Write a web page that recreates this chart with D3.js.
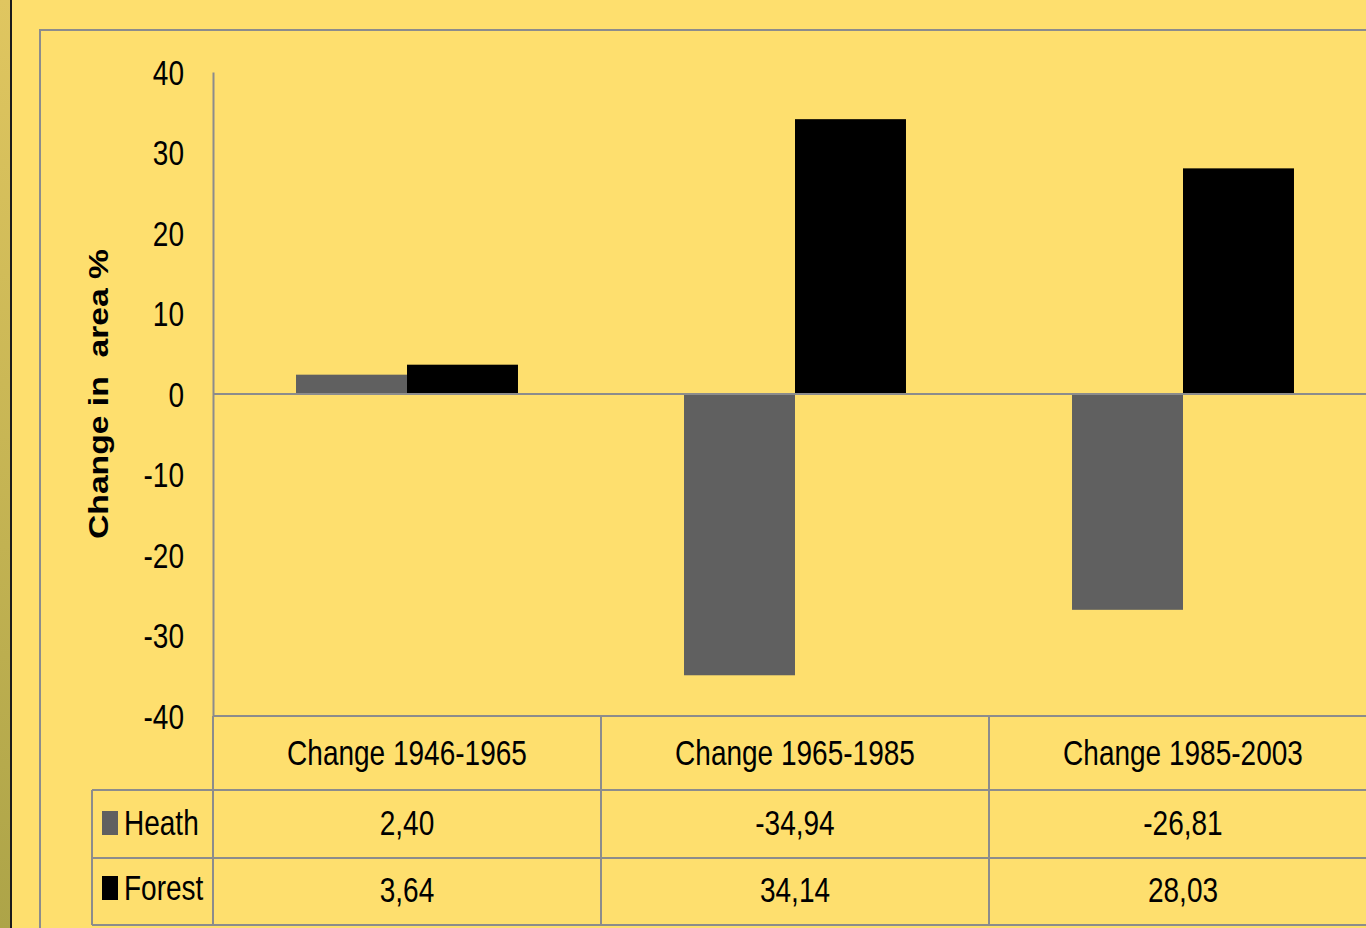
<!DOCTYPE html>
<html><head><meta charset="utf-8">
<script src="https://cdn.jsdelivr.net/npm/d3@7"></script>
<style>html,body{margin:0;padding:0;background:#FEDF6E;overflow:hidden}</style>
</head><body>
<script>
const categories = ["Change 1946-1965", "Change 1965-1985", "Change 1985-2003"];
const seriesNames = ["Heath", "Forest"];
const heath = [2.40, -34.94, -26.81];
const forest = [3.64, 34.14, 28.03];
const heathLabels = ["2,40", "-34,94", "-26,81"];
const forestLabels = ["3,64", "34,14", "28,03"];
const yTicks = [40, 30, 20, 10, 0, -10, -20, -30, -40];
const colors = {Heath: "#606060", Forest: "#000000"};
const yTitle = "Change in\u00a0\u00a0area %";

const W = 1366, H = 928;
const bg = "#FEDF6E", lineC = "#8C8C8C";
const font = "'Liberation Sans Narrow', 'Liberation Sans', Arial, sans-serif";
const NARROW = 0.8;

function narrow(sel, f) {
  sel.each(function() {
    const len = this.getComputedTextLength();
    d3.select(this).attr("textLength", len * f).attr("lengthAdjust", "spacingAndGlyphs");
  });
}

const svg = d3.select("body").append("svg").attr("width", W).attr("height", H);
const defs = svg.append("defs");
const grad = defs.append("linearGradient").attr("id", "strip").attr("x1", 0).attr("y1", 0).attr("x2", 0).attr("y2", 1);
grad.append("stop").attr("offset", "0%").attr("stop-color", "#E0C660");
grad.append("stop").attr("offset", "100%").attr("stop-color", "#ADA448");

svg.append("rect").attr("width", W).attr("height", H).attr("fill", bg);
svg.append("rect").attr("x", 0).attr("y", 0).attr("width", 10).attr("height", H).attr("fill", "url(#strip)");
svg.append("rect").attr("x", 10).attr("y", 0).attr("width", 2).attr("height", H).attr("fill", "#1a1a1a");

// chart border
svg.append("path").attr("d", `M40,${H} V30 H${W}`).attr("fill", "none").attr("stroke", lineC).attr("stroke-width", 2);

const plotLeft = 213, bandW = 388;
const x = d3.scaleBand().domain(categories).range([plotLeft, plotLeft + bandW * categories.length]).padding(0);
const x1 = d3.scaleBand().domain(seriesNames).range([0, x.bandwidth()]).paddingOuter(0.748).paddingInner(0);
const y = d3.scaleLinear().domain([-40, 40]).range([716, 72]);

// bars
const data = categories.map((c, i) => ({cat: c, vals: [{s: "Heath", v: heath[i]}, {s: "Forest", v: forest[i]}]}));
const g = svg.append("g");
g.selectAll("g.grp").data(data).join("g").attr("class", "grp")
  .attr("transform", d => `translate(${x(d.cat)},0)`)
  .selectAll("rect").data(d => d.vals).join("rect")
  .attr("x", d => x1(d.s)).attr("width", x1.bandwidth())
  .attr("y", d => y(Math.max(0, d.v))).attr("height", d => Math.abs(y(d.v) - y(0)))
  .attr("fill", d => colors[d.s]);

// zero line
svg.append("line").attr("x1", plotLeft).attr("x2", W).attr("y1", y(0)).attr("y2", y(0)).attr("stroke", lineC).attr("stroke-width", 2);

// y axis
const yAxis = d3.axisLeft(y).tickValues(yTicks).tickSize(0).tickPadding(29).tickFormat(d => String(d));
const ya = svg.append("g").attr("transform", `translate(${plotLeft},0)`).call(yAxis);
ya.select(".domain").attr("stroke", lineC).attr("stroke-width", 2);
ya.selectAll("text").attr("font-family", font).attr("font-size", 35).attr("fill", "#000").attr("dy", "0.35em").call(narrow, NARROW);

// y title
svg.append("text").attr("transform", "translate(108,394) rotate(-90)")
  .attr("text-anchor", "middle").attr("font-family", "'Liberation Sans', Arial, sans-serif")
  .attr("font-weight", "bold").attr("font-size", 28).attr("fill", "#000")
  .attr("textLength", 290).attr("lengthAdjust", "spacingAndGlyphs")
  .text(yTitle);

// data table
const rowTop = [716, 790, 858, 925];
const tableLeft = 92;
const tl = svg.append("g").attr("stroke", lineC).attr("stroke-width", 2);
tl.append("line").attr("x1", plotLeft).attr("x2", W).attr("y1", rowTop[0]).attr("y2", rowTop[0]);
[1, 2, 3].forEach(i => tl.append("line").attr("x1", tableLeft).attr("x2", W).attr("y1", rowTop[i]).attr("y2", rowTop[i]));
tl.append("line").attr("x1", tableLeft).attr("x2", tableLeft).attr("y1", rowTop[1]).attr("y2", rowTop[3]);
categories.forEach(c => tl.append("line").attr("x1", x(c)).attr("x2", x(c)).attr("y1", y(-40)).attr("y2", rowTop[3]));

const tt = svg.append("g").attr("font-family", font).attr("font-size", 35).attr("fill", "#000").attr("text-anchor", "middle");
categories.forEach((c, i) => {
  const cx = x(c) + x.bandwidth() / 2;
  tt.append("text").attr("x", cx).attr("y", 753).attr("dy", "0.35em").text(c);
  tt.append("text").attr("x", cx).attr("y", 823).attr("dy", "0.35em").text(heathLabels[i]);
  tt.append("text").attr("x", cx).attr("y", 890).attr("dy", "0.35em").text(forestLabels[i]);
});
tt.selectAll("text").call(narrow, NARROW);

// legend keys
const leg = [{s: "Heath", y: 823}, {s: "Forest", y: 888}];
leg.forEach(l => {
  svg.append("rect").attr("x", 102).attr("y", l.y - 12).attr("width", 16).attr("height", 24).attr("fill", colors[l.s]);
  svg.append("text").attr("x", 124).attr("y", l.y).attr("dy", "0.35em")
    .attr("font-family", font).attr("font-size", 35).attr("fill", "#000").text(l.s).call(narrow, NARROW);
});
</script>
</body></html>
